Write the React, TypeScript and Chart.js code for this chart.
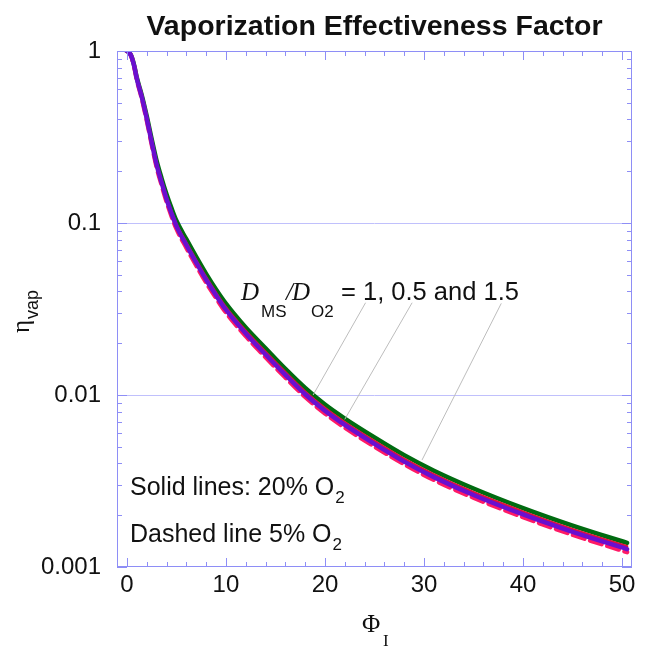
import { useEffect, useRef } from "react";
import { Chart, registerables } from "chart.js";

Chart.register(...registerables);

// ---- data ----
const phi = [0, 0.25, 0.5, 0.75, 1, 1.5, 2, 2.5, 3, 3.5, 4, 4.5, 5, 6, 7, 8, 9, 10, 12, 14, 16, 18, 20, 22, 25, 28, 31, 35, 40, 45, 50.5];

// 20% O2, solid lines (three diffusivity ratios)
const etaGreen = [1, 0.979, 0.92, 0.818, 0.70, 0.553, 0.419, 0.308, 0.23, 0.182, 0.147, 0.122, 0.103, 0.0805, 0.0635, 0.0506, 0.0411, 0.034, 0.0247, 0.0187, 0.0142, 0.011, 0.0088, 0.0073, 0.00567, 0.00447, 0.00363, 0.00286, 0.0022, 0.00174, 0.00138];
const etaRed = [1, 0.978, 0.917, 0.814, 0.695, 0.546, 0.411, 0.301, 0.223, 0.177, 0.142, 0.117, 0.0988, 0.0768, 0.0607, 0.0484, 0.0393, 0.0324, 0.0236, 0.0178, 0.01357, 0.01047, 0.0084, 0.00695, 0.0054, 0.00426, 0.00346, 0.00272, 0.0021, 0.00166, 0.00132];
const etaPurple = [1, 0.978, 0.915, 0.81, 0.69, 0.54, 0.405, 0.295, 0.218, 0.172, 0.138, 0.114, 0.096, 0.0745, 0.0588, 0.0468, 0.038, 0.0313, 0.0228, 0.0172, 0.0131, 0.0101, 0.0081, 0.0067, 0.0052, 0.0041, 0.00333, 0.00262, 0.00202, 0.0016, 0.00127];
// 5% O2, dashed line
const etaDashed = [1, 0.977, 0.912, 0.805, 0.683, 0.532, 0.397, 0.288, 0.212, 0.167, 0.1335, 0.11, 0.0927, 0.0719, 0.0567, 0.0451, 0.0367, 0.0302, 0.022, 0.0166, 0.01264, 0.00975, 0.00782, 0.00647, 0.00502, 0.00396, 0.00321, 0.00253, 0.00195, 0.00154, 0.00122];

const xTicks = [0, 10, 20, 30, 40, 50];
const yTicks = [0.001, 0.01, 0.1, 1];
const yTickLabels = ["0.001", "0.01", "0.1", "1"];
const yGridLines = [0.01, 0.1];

// pointer lines of the annotation, in data units: [x0, y0, x1, y1]
const pointers = [
  [24.1, 0.0344, 18.8, 0.0100],
  [28.8, 0.0344, 22.0, 0.00722],
  [37.8, 0.0341, 29.8, 0.00419],
];

const SANS = "'Liberation Sans', Arial, Helvetica, sans-serif";
const SERIF = "'Liberation Serif', 'Times New Roman', serif";
const FRAME = "#8e8ef6";
const GRID = "#c0c0fc";

const toPts = (ys: number[]) => phi.map((x, i) => ({ x, y: ys[i] }));

const decor = {
  id: "decor",
  beforeDatasetsDraw(chart: any) {
    const { ctx, chartArea: a, scales } = chart;
    const y = scales.y;
    ctx.save();
    ctx.strokeStyle = GRID;
    ctx.lineWidth = 1;
    for (const v of yGridLines) {
      const py = Math.round(y.getPixelForValue(v)) + 0.5;
      ctx.beginPath();
      ctx.moveTo(a.left, py);
      ctx.lineTo(a.right, py);
      ctx.stroke();
    }
    ctx.restore();
  },
  afterDatasetsDraw(chart: any) {
    const { ctx, chartArea: a, scales } = chart;
    const x = scales.x;
    const y = scales.y;
    ctx.save();
    // frame
    ctx.strokeStyle = FRAME;
    ctx.lineWidth = 1;
    ctx.strokeRect(a.left + 0.5, a.top + 0.5, a.right - a.left - 1, a.bottom - a.top - 1);
    // inward ticks, x
    ctx.beginPath();
    for (let v = 0; v <= 50; v += 2) {
      const px = Math.round(x.getPixelForValue(v)) + 0.5;
      const len = v % 10 === 0 ? 9 : 5;
      ctx.moveTo(px, a.bottom);
      ctx.lineTo(px, a.bottom - len);
      ctx.moveTo(px, a.top);
      ctx.lineTo(px, a.top + len);
    }
    // inward ticks, y
    for (let d = -3; d <= 0; d++) {
      for (let m = 1; m <= 9; m++) {
        const v = m * Math.pow(10, d);
        if (v > 1.0001) break;
        const py = Math.round(y.getPixelForValue(v)) + 0.5;
        const len = m === 1 ? 10 : 5;
        ctx.moveTo(a.left, py);
        ctx.lineTo(a.left + len, py);
        ctx.moveTo(a.right, py);
        ctx.lineTo(a.right - len, py);
      }
    }
    ctx.stroke();

    // annotation pointer lines
    ctx.strokeStyle = "#bdbdbd";
    ctx.lineWidth = 1;
    ctx.beginPath();
    for (const [x0, y0, x1, y1] of pointers) {
      ctx.moveTo(x.getPixelForValue(x0), y.getPixelForValue(y0));
      ctx.lineTo(x.getPixelForValue(x1), y.getPixelForValue(y1));
    }
    ctx.stroke();
    ctx.restore();
  },
  afterDraw(chart: any) {
    const { ctx, chartArea: a } = chart;
    ctx.save();
    ctx.fillStyle = "#111";
    ctx.textBaseline = "alphabetic";

    // title
    ctx.font = `bold 28.5px ${SANS}`;
    ctx.textAlign = "center";
    ctx.fillText("Vaporization Effectiveness Factor", (a.left + a.right) / 2, 35);

    ctx.textAlign = "left";
    // D_MS / D_O2 = 1, 0.5 and 1.5
    ctx.font = `italic 25px ${SERIF}`;
    ctx.fillText("D", 241, 300);
    ctx.font = `17px ${SANS}`;
    ctx.fillText("MS", 261, 317);
    ctx.font = `italic 25px ${SERIF}`;
    ctx.fillText("/", 286, 300);
    ctx.fillText("D", 292, 300);
    ctx.font = `17px ${SANS}`;
    ctx.fillText("O2", 311, 317);
    ctx.font = `25.5px ${SANS}`;
    ctx.fillText("= 1, 0.5 and 1.5", 341, 300);

    // solid / dashed legend text
    ctx.font = `25px ${SANS}`;
    const s1 = "Solid lines: 20% O";
    ctx.fillText(s1, 130, 495);
    const w1 = ctx.measureText(s1).width;
    const s2 = "Dashed line 5% O";
    ctx.fillText(s2, 130, 542);
    const w2 = ctx.measureText(s2).width;
    ctx.font = `17px ${SANS}`;
    ctx.fillText("2", 130 + w1 + 1, 503);
    ctx.fillText("2", 130 + w2 + 1, 550);

    // x axis title  Φ_I
    ctx.font = `25px ${SERIF}`;
    ctx.fillText("Φ", 362, 632);
    ctx.font = `17px ${SERIF}`;
    ctx.fillText("I", 383, 646);

    // y axis title  η_vap (rotated)
    ctx.translate(29, 333);
    ctx.rotate(-Math.PI / 2);
    ctx.font = `25px ${SERIF}`;
    ctx.fillText("η", 0, 0);
    const we = ctx.measureText("η").width;
    ctx.font = `18px ${SANS}`;
    ctx.fillText("vap", we + 1, 9);
    ctx.restore();
  },
};

export default function App() {
  const ref = useRef<HTMLCanvasElement | null>(null);
  useEffect(() => {
    if (!ref.current) return;
    const chart = new Chart(ref.current, {
      type: "line",
      data: {
        datasets: [
          {
            label: "20% O2 (purple)",
            data: toPts(etaPurple),
            borderColor: "#6a0fcf",
            borderWidth: 4.5,
            order: 0,
          },
          {
            label: "5% O2 (dashed)",
            data: toPts(etaDashed),
            borderColor: "#ff1a66",
            borderWidth: 4.5,
            borderDash: [12, 6],
            order: 1,
          },
          {
            label: "20% O2 (red)",
            data: toPts(etaRed),
            borderColor: "#e0103a",
            borderWidth: 2.5,
            order: 2,
          },
          {
            label: "20% O2 (green)",
            data: toPts(etaGreen),
            borderColor: "#006b10",
            borderWidth: 4.5,
            order: 3,
          },
        ] as any,
      },
      options: {
        animation: false,
        responsive: false,
        devicePixelRatio: 1,
        parsing: true,
        elements: {
          point: { radius: 0 },
          line: { cubicInterpolationMode: "monotone", fill: false, borderCapStyle: "round" },
        },
        layout: { padding: { top: 51, right: 22, left: 0, bottom: 0 } },
        plugins: {
          legend: { display: false },
          title: { display: false },
          tooltip: { enabled: false },
        },
        scales: {
          x: {
            type: "linear",
            min: -1,
            max: 51,
            grid: { display: false, drawTicks: false },
            border: { display: false },
            afterBuildTicks: (s: any) => {
              s.ticks = xTicks.map((v) => ({ value: v }));
            },
            afterFit: (s: any) => {
              s.height = 81;
            },
            ticks: {
              font: { family: SANS, size: 24 },
              color: "#111",
              padding: 4,
              maxRotation: 0,
              autoSkip: false,
            },
          },
          y: {
            type: "logarithmic",
            min: 0.001,
            max: 1,
            grid: { display: false, drawTicks: false },
            border: { display: false },
            afterBuildTicks: (s: any) => {
              s.ticks = yTicks.map((v) => ({ value: v }));
            },
            afterFit: (s: any) => {
              s.width = 117;
            },
            ticks: {
              font: { family: SANS, size: 24 },
              color: "#111",
              padding: 16,
              autoSkip: false,
              callback: (v: any) => {
                const i = yTicks.findIndex((t) => Math.abs(t - Number(v)) < 1e-9);
                return i >= 0 ? yTickLabels[i] : "";
              },
            },
          },
        },
      },
      plugins: [decor],
    } as any);
    return () => chart.destroy();
  }, []);
  return (
    <div style={{ position: "absolute", left: 0, top: 0, width: 654, height: 648, background: "#fff" }}>
      <canvas ref={ref} width={654} height={648} />
    </div>
  );
}
